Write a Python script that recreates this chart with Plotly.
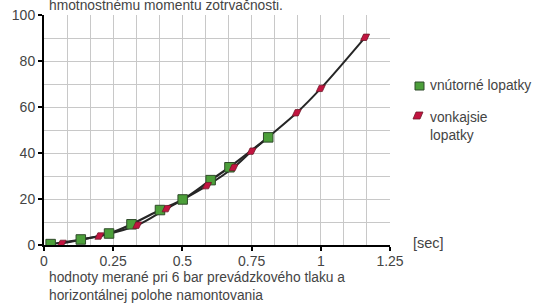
import plotly.graph_objects as go

# data
green_x = [0.024, 0.133, 0.235, 0.316, 0.419, 0.501, 0.602, 0.670, 0.810]
green_y = [0.4, 2.4, 5.0, 9.0, 15.2, 19.8, 28.2, 33.8, 46.8]
red_x = [0.064, 0.200, 0.337, 0.443, 0.589, 0.685, 0.750, 0.913, 1.000, 1.160]
red_y = [0.7, 3.9, 8.6, 15.8, 25.8, 33.7, 40.8, 57.5, 68.1, 90.3]

x_ticks = [0, 0.25, 0.5, 0.75, 1, 1.25]
x_tick_labels = ["0", "0.25", "0.5", "0.75", "1", "1.25"]
y_ticks = [0, 20, 40, 60, 80, 100]

series_names = ["vnútorné lopatky", "vonkajsie<br>lopatky"]

W, H = 534, 305
L, R, T, B = 44, 144, 15, 60
PW, PH = W - L - R, H - T - B

def px(xp):
    return (xp - L) / PW

def py(yp):
    return (H - B - yp) / PH

FONT = "Liberation Sans, Arial, sans-serif"
TXT = "#444444"
GREEN = "#4c9f3a"
GREEN_EDGE = "#2f4a2a"
RED = "#c21440"
RED_EDGE = "#6e1a2a"
LINE = "#262626"
GRID = "#c8c8c8"
TS = 13.8

fig = go.Figure()

fig.add_trace(go.Scatter(
    x=red_x, y=red_y, mode="lines", line=dict(color=LINE, width=2, shape="spline", smoothing=1),
    hoverinfo="skip", showlegend=False))
fig.add_trace(go.Scatter(
    x=green_x, y=green_y, mode="lines", line=dict(color=LINE, width=2.2, shape="spline", smoothing=1),
    hoverinfo="skip", showlegend=False))
fig.add_trace(go.Scatter(
    x=green_x, y=green_y, mode="markers",
    marker=dict(symbol="square", size=9.5, color=GREEN, line=dict(color=GREEN_EDGE, width=1)),
    showlegend=False))

para = "M -4.5 -3.2 L 1.5 -3.2 L 4.5 3.2 L -1.5 3.2 Z"
shapes = []
for xv, yv in zip(red_x, red_y):
    shapes.append(dict(type="path", xref="x", yref="y", xsizemode="pixel", ysizemode="pixel",
                       xanchor=xv, yanchor=yv, path=para, fillcolor=RED,
                       line=dict(color=RED_EDGE, width=0.8), layer="above"))

# legend icons
shapes.append(dict(type="path", xref="paper", yref="paper", xsizemode="pixel", ysizemode="pixel",
                   xanchor=px(419.5), yanchor=py(86), path="M -4.5 -4 L 4.5 -4 L 4.5 4 L -4.5 4 Z",
                   fillcolor=GREEN, line=dict(color=GREEN_EDGE, width=1)))
shapes.append(dict(type="path", xref="paper", yref="paper", xsizemode="pixel", ysizemode="pixel",
                   xanchor=px(418), yanchor=py(115.5), path="M -5 -3.5 L 2 -3.5 L 5 3.5 L -2 3.5 Z",
                   fillcolor=RED, line=dict(color=RED_EDGE, width=0.8)))

annotations = [
    dict(text=series_names[0], x=px(428), y=py(85), xref="paper", yref="paper",
         xanchor="left", yanchor="middle", showarrow=False, font=dict(size=TS, color=TXT, family=FONT)),
    dict(text=series_names[1], x=px(428), y=py(108), xref="paper", yref="paper",
         xanchor="left", yanchor="top", showarrow=False, align="left",
         font=dict(size=TS, color=TXT, family=FONT)),
    dict(text="[sec]", x=px(411), y=py(243), xref="paper", yref="paper",
         xanchor="left", yanchor="middle", showarrow=False, font=dict(size=14.5, color=TXT, family=FONT)),
    dict(text="hodnoty merané pri 6 bar prevádzkového tlaku a<br>horizontálnej polohe namontovania",
         x=px(47), y=py(268), xref="paper", yref="paper", xanchor="left", yanchor="top",
         showarrow=False, align="left", font=dict(size=TS, color=TXT, family=FONT)),
    dict(text="hmotnostnému momentu zotrvačnosti.", x=px(47), y=py(15), xref="paper", yref="paper",
         xanchor="left", yanchor="bottom", showarrow=False, font=dict(size=TS, color=TXT, family=FONT)),
]

fig.update_layout(
    width=W, height=H, margin=dict(l=L, r=R, t=T, b=B, autoexpand=False),
    paper_bgcolor="white", plot_bgcolor="white",
    font=dict(family=FONT, color=TXT, size=13),
    shapes=shapes, annotations=annotations, showlegend=False,
    xaxis=dict(range=[0, 1.25], tickvals=x_ticks, ticktext=x_tick_labels, automargin=False,
               showgrid=True, gridcolor=GRID, gridwidth=1,
               minor=dict(dtick=1/12, tick0=0, showgrid=True, gridcolor=GRID, gridwidth=1, ticks=""),
               showline=True, linecolor="black", linewidth=2,
               ticks="outside", ticklen=4, tickcolor="black", tickwidth=1.5,
               ticklabelstandoff=-2,
               zeroline=False, tickfont=dict(size=14, color=TXT)),
    yaxis=dict(range=[0, 100], tickvals=y_ticks, automargin=False,
               showgrid=True, gridcolor=GRID, gridwidth=1,
               minor=dict(dtick=10, tick0=0, showgrid=True, gridcolor=GRID, gridwidth=1, ticks=""),
               showline=True, linecolor="black", linewidth=2,
               ticks="outside", ticklen=4, tickcolor="black", tickwidth=1.5,
               zeroline=False, tickfont=dict(size=14, color=TXT)),
)

fig.write_html("out.html", post_script="document.body.style.margin='0';",
               config={"displayModeBar": False})
